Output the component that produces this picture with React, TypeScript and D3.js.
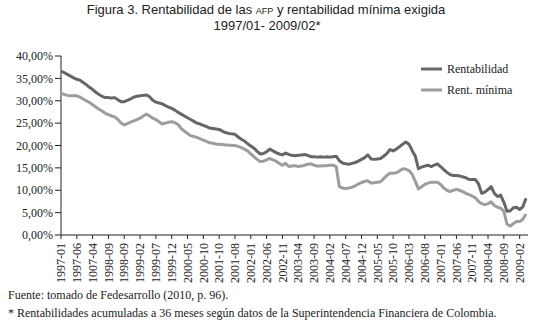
import React from 'react';
import * as d3 from 'd3';

const tickLabels = ['1997-01','1997-06','1007-04','1998-09','1998-09','1999-02','1999-07','1999-12','2000-05','2000-10','2001-10','2001-08','2002-01','2002-06','2002-11','2003-04','2003-09','2004-02','2004-07','2004-12','2005-05','2005-10','2006-03','2006-08','2007-01','2007-06','2007-11','2008-04','2008-09','2009-02'];

const yTicks = [0, 5, 10, 15, 20, 25, 30, 35, 40];

const rentabilidad = [
  36.6,36.3,35.9,35.5,35.1,34.8,34.6,34.1,33.6,33.0,
  32.5,31.9,31.4,31.0,30.7,30.7,30.6,30.7,30.2,29.8,
  29.8,30.1,30.4,30.8,31.0,31.1,31.2,31.3,30.9,30.1,
  29.7,29.5,29.3,28.9,28.6,28.3,27.9,27.4,27.0,26.6,
  26.2,25.8,25.4,25.0,24.8,24.5,24.2,23.9,23.8,23.7,
  23.6,23.2,22.9,22.7,22.6,22.5,21.9,21.4,21.0,20.4,
  19.9,19.4,18.7,18.1,18.2,18.6,19.2,18.8,18.4,18.1,
  17.9,18.3,18.0,17.8,17.7,17.8,17.9,18.0,17.8,17.5,
  17.5,17.4,17.5,17.4,17.5,17.4,17.5,17.6,16.6,16.1,
  15.9,15.8,16.0,16.2,16.5,16.9,17.3,17.9,17.0,16.9,
  17.0,17.1,17.6,18.2,19.1,18.8,19.2,19.7,20.3,20.8,
  20.3,18.9,17.6,14.8,15.2,15.4,15.6,15.3,15.6,15.9,
  15.3,14.6,14.0,13.5,13.3,13.3,13.2,13.0,12.8,12.4,
  12.4,12.4,11.4,9.3,9.6,10.2,10.8,9.3,8.6,8.9,
  7.3,5.3,5.4,6.1,6.2,5.7,6.3,8.2
];

const rentMinima = [
  31.7,31.4,31.2,31.1,31.1,31.1,30.8,30.4,30.0,29.6,
  29.1,28.6,28.1,27.7,27.2,26.9,26.6,26.4,25.8,25.0,
  24.6,24.9,25.2,25.5,25.8,26.1,26.6,27.0,26.6,26.1,
  25.8,25.3,24.8,25.0,25.2,25.3,25.1,24.7,23.8,23.2,
  22.7,22.2,22.0,21.8,21.5,21.2,20.9,20.6,20.5,20.3,
  20.3,20.2,20.1,20.1,20.0,20.0,19.8,19.5,19.2,18.8,
  18.1,17.5,16.9,16.4,16.5,16.8,17.1,16.8,16.5,16.0,
  15.6,16.0,15.3,15.4,15.5,15.3,15.4,15.6,15.8,15.9,
  15.6,15.4,15.4,15.5,15.5,15.6,15.6,15.3,10.8,10.5,
  10.4,10.5,10.7,11.0,11.4,11.7,12.0,12.1,11.6,11.7,
  11.8,11.9,12.6,13.3,13.8,13.8,13.9,14.3,14.8,14.7,
  14.4,13.6,12.0,10.3,10.8,11.3,11.6,11.8,11.8,11.8,
  11.3,10.5,10.0,9.7,10.0,10.2,10.0,9.7,9.3,9.0,
  8.7,8.3,7.5,7.0,6.8,7.0,7.4,6.6,6.2,6.0,
  5.3,2.4,2.0,2.5,3.0,3.0,3.5,4.7
];

const seriesNames = ['Rentabilidad', 'Rent. mínima'];
const seriesColors = ['#666666', '#9d9d9d'];

const W = 534, H = 327;
const left = 61, right = 526, top = 56, bottom = 235;

export default function App() {
  const n = rentabilidad.length;
  const x = d3.scaleLinear().domain([0, n - 1]).range([left, right]);
  const y = d3.scaleLinear().domain([0, 40]).range([bottom, top]);
  const line = d3.line<number>().x((_, i) => x(i)).y(d => y(d));
  const serif = '"Liberation Serif", "Times New Roman", serif';
  const sans = '"Liberation Sans", Arial, sans-serif';
  const fmt = (v: number) => v.toFixed(2).replace('.', ',') + '%';
  const series = [rentabilidad, rentMinima];

  return (
    <svg width={W} height={H} style={{ position: 'absolute', left: 0, top: 0, background: '#fff' }}>
      <rect width={W} height={H} fill="#fff" />
      <text x={266} y={14} textAnchor="middle" fontFamily={sans} fontSize={13} fill="#222">
        Figura 3. Rentabilidad de las <tspan fontSize={9}>AFP</tspan> y rentabilidad mínima exigida
      </text>
      <text x={267} y={30} textAnchor="middle" fontFamily={sans} fontSize={13} fill="#222">
        1997/01- 2009/02*
      </text>

      {/* y axis */}
      <line x1={left} x2={left} y1={top} y2={bottom} stroke="#222" strokeWidth={1} />
      {yTicks.map(t => (
        <g key={t}>
          <line x1={left - 6} x2={left} y1={y(t)} y2={y(t)} stroke="#222" />
          <text x={left - 8} y={y(t)} dy="0.35em" textAnchor="end" fontFamily={serif} fontSize={12} fill="#222">{fmt(t)}</text>
        </g>
      ))}

      {/* x axis */}
      <line x1={left} x2={528} y1={bottom} y2={bottom} stroke="#222" strokeWidth={1} />
      {tickLabels.map((lab, k) => {
        const xi = x(k * 5);
        return (
          <g key={k}>
            <line x1={xi} x2={xi} y1={bottom} y2={bottom + 4} stroke="#222" />
            <text transform={`translate(${xi},${bottom + 8}) rotate(-90)`} dy="0.35em" textAnchor="end" fontFamily={serif} fontSize={12} fill="#222">{lab}</text>
          </g>
        );
      })}

      {/* lines */}
      {series.map((s, si) => (
        <path key={si} d={line(s) || ''} fill="none" stroke={seriesColors[si]} strokeWidth={3} strokeLinejoin="round" />
      ))}

      {/* legend */}
      {seriesNames.map((nm, si) => (
        <g key={nm}>
          <line x1={421} x2={442} y1={69 + si * 21} y2={69 + si * 21} stroke={seriesColors[si]} strokeWidth={3} />
          <text x={447} y={69 + si * 21} dy="0.35em" fontFamily={serif} fontSize={12} fill="#222">{nm}</text>
        </g>
      ))}

      {/* footnotes */}
      <text x={8} y={299} fontFamily={serif} fontSize={12} fill="#222">Fuente: tomado de Fedesarrollo (2010, p. 96).</text>
      <text x={8} y={317} fontFamily={serif} fontSize={12} fill="#222">* Rentabilidades acumuladas a 36 meses según datos de la Superintendencia Financiera de Colombia.</text>
    </svg>
  );
}
